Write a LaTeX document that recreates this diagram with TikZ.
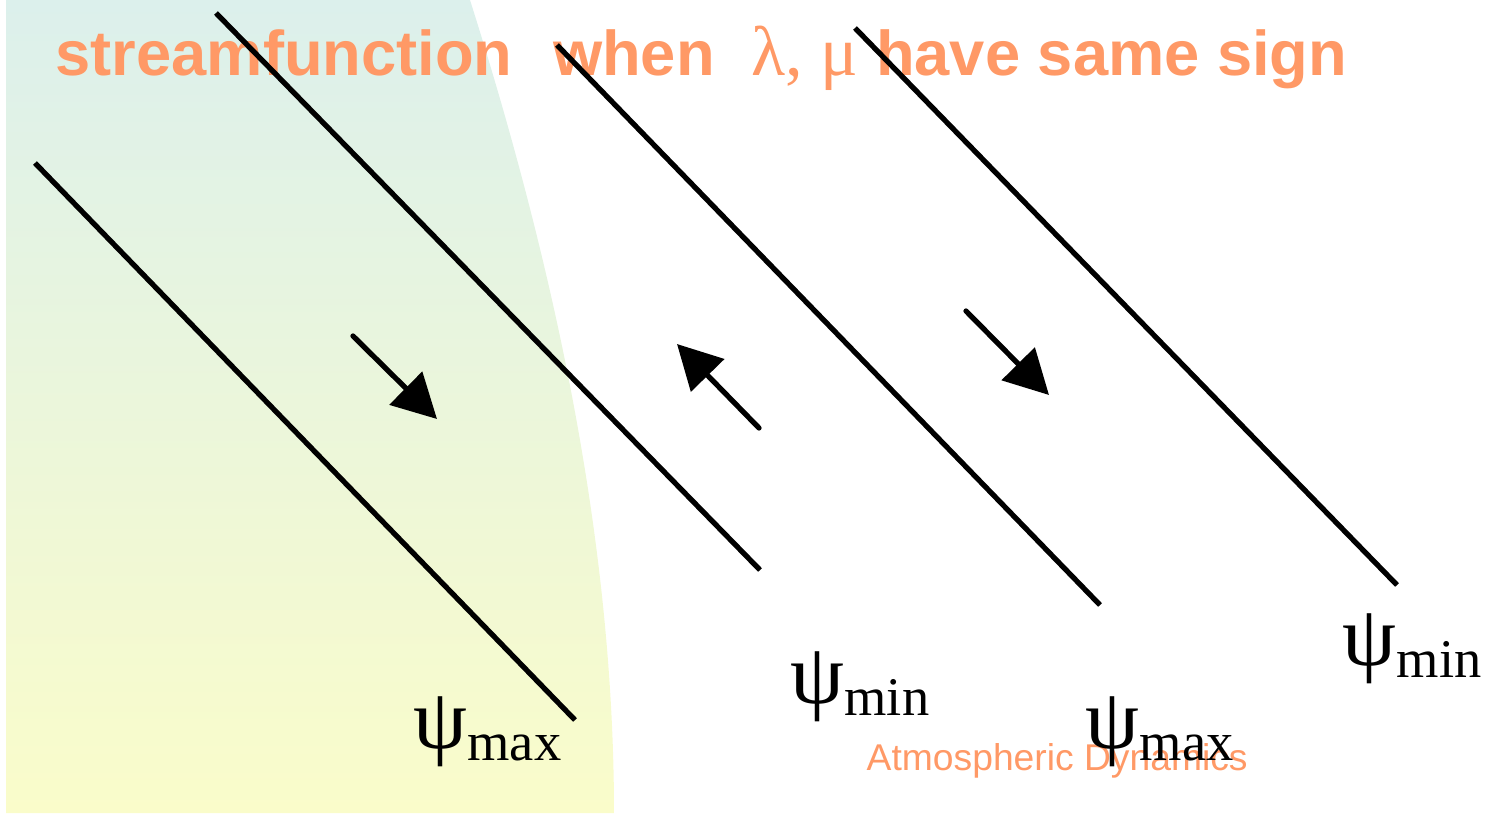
\documentclass[tikz,border=0pt]{standalone}
\usepackage{fontspec}
\setmainfont{Liberation Serif}
\setsansfont{Liberation Sans}
\usetikzlibrary{arrows.meta}
\definecolor{salmon}{RGB}{255,153,102}
\definecolor{skytop}{RGB}{220,240,236}
\definecolor{skybot}{RGB}{250,252,202}
\newcommand{\psilabel}[1]{{\fontsize{24.5}{24}\selectfont ψ}\raisebox{-1.2mm}{\fontsize{15.5}{16}\selectfont #1}}

\begin{document}
\begin{tikzpicture}[x=0.1mm,y=-0.1mm,>={Triangle[length=12.5pt,width=13pt]}]
  \useasboundingbox (0,0) rectangle (1488,813);
  % shaded region on the left
  \shade[top color=skytop,bottom color=skybot,draw=none]
    (6,0) -- (470,0) .. controls (562,290) and (614,560) .. (614,813) -- (6,813) -- cycle;
  \node[anchor=base west,inner sep=0pt,text=salmon,font=\sffamily\bfseries\fontsize{18}{20}\selectfont] (title) at (55,75)
    {streamfunction\hspace{11.5pt}when\hspace{10.5pt}{\rmfamily\mdseries\fontsize{20}{20}\selectfont λ, μ} have same sign};
  % streamlines
  \foreach \xa/\ya/\xb/\yb in {35/163/575/720, 216/13/760/570, 557/45/1100/605, 855/28/1397/585}{
    \draw[line width=1.5pt] (\xa,\ya) -- (\xb,\yb);
  }
  % flow direction
  \draw[->,line width=1.5pt,line cap=round] (353,336) -- (437,419);
  \draw[->,line width=1.5pt,line cap=round] (759,428) -- (677,344);
  \draw[->,line width=1.5pt,line cap=round] (966,311) -- (1049,395);
  \node[anchor=base west,inner sep=0pt,text=salmon,font=\sffamily\fontsize{10.6}{12}\selectfont] (foot) at (866,770) {Atmospheric Dynamics};
  \node[anchor=base west,inner sep=0pt] (max1) at (413,748) {\psilabel{max}};
  \node[anchor=base west,inner sep=0pt] (min1) at (790,703) {\psilabel{min}};
  \node[anchor=base west,inner sep=0pt] (max2) at (1085,748) {\psilabel{max}};
  \node[anchor=base west,inner sep=0pt] (min2) at (1342,665) {\psilabel{min}};
\end{tikzpicture}
\end{document}
